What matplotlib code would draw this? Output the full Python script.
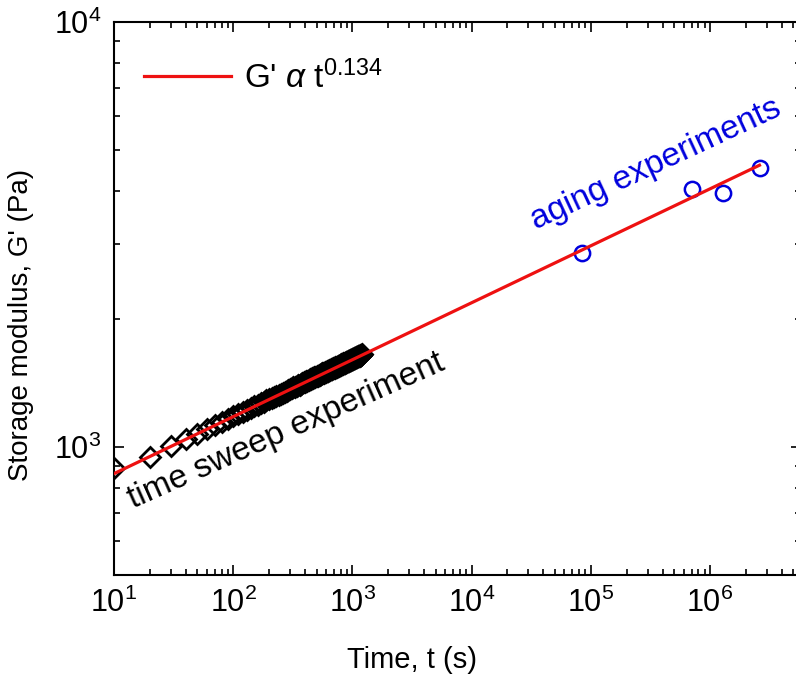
import numpy as np
import matplotlib
matplotlib.use("Agg")
from matplotlib import pyplot as plt

plt.rcParams['font.family'] = ['Liberation Sans', 'DejaVu Sans']
plt.rcParams['mathtext.fontset'] = 'custom'
plt.rcParams['mathtext.rm'] = 'Liberation Sans'
plt.rcParams['mathtext.it'] = 'Liberation Sans:italic'

# time sweep experiment (s, Pa)
sweep_t = list(range(10, 1210, 10))
sweep_G = [895, 950, 1003, 1043, 1075, 1102, 1125, 1146, 1164, 1181,
           1196, 1210, 1223, 1235, 1247, 1258, 1268, 1278, 1287, 1296,
           1305, 1313, 1321, 1329, 1336, 1343, 1350, 1357, 1363, 1369,
           1375, 1381, 1387, 1392, 1398, 1403, 1408, 1414, 1419, 1424,
           1428, 1433, 1437, 1442, 1446, 1451, 1455, 1459, 1463, 1467,
           1471, 1475, 1479, 1482, 1486, 1490, 1493, 1497, 1500, 1504,
           1507, 1510, 1513, 1517, 1520, 1523, 1526, 1529, 1532, 1535,
           1538, 1541, 1544, 1546, 1549, 1552, 1555, 1557, 1560, 1563,
           1565, 1568, 1570, 1573, 1575, 1578, 1580, 1583, 1585, 1588,
           1590, 1592, 1595, 1597, 1599, 1602, 1604, 1606, 1608, 1611,
           1613, 1615, 1617, 1619, 1621, 1623, 1626, 1628, 1630, 1632,
           1634, 1636, 1638, 1640, 1642, 1643, 1645, 1647, 1649, 1651]

# aging experiments
aging_t = [8.4e4, 7.0e5, 1.29e6, 2.63e6]
aging_G = [2860, 4050, 3960, 4540]

# power law fit G' = A t^b
fit_A = 636
fit_b = 0.134
fit_t = np.array([10, 2.6e6])
fit_G = fit_A * fit_t ** fit_b

fig = plt.figure(figsize=(7.96, 6.82), dpi=100)
ax = fig.add_axes([114/796, 1 - 575/682, 687/796, 553/682])

ax.plot(sweep_t, sweep_G, linestyle='none', marker='D', markersize=10,
        markerfacecolor='none', markeredgecolor='black', markeredgewidth=2.0, zorder=2)
ax.plot(aging_t, aging_G, linestyle='none', marker='o', markersize=11,
        markerfacecolor='none', markeredgecolor='#0000dd', markeredgewidth=1.8, zorder=3)
ax.plot(fit_t, fit_G, color='#ee1111', linewidth=2.3, zorder=4,
        label="G' $\\alpha$ t$^{0.134}$")

ax.set_xscale('log')
ax.set_yscale('log')
ax.set_xlim(10, 5.8e6)
ax.set_ylim(500, 1e4)

ax.tick_params(which='both', direction='in', top=True, right=True, labelsize=22, width=1.2)
ax.tick_params(which='major', length=7, pad=9)
ax.tick_params(which='minor', length=4)
for s in ax.spines.values():
    s.set_linewidth(1.5)

ax.set_xlabel('Time, t (s)', fontsize=21)
ax.xaxis.set_label_coords((412 - 114) / 687, -0.128)
ax.set_ylabel("Storage modulus, G' (Pa)", fontsize=20)
ax.yaxis.set_label_coords(-0.117, 1 - (325 - 22) / 553)

ax.text(14.4, 715, 'time sweep experiment', fontsize=24, rotation=24,
        rotation_mode='anchor', ha='left', va='baseline')
ax.text(3.5e4, 3250, 'aging experiments', fontsize=24, rotation=25, color='#0000dd',
        rotation_mode='anchor', ha='left', va='baseline')

ax.legend(loc='upper left', bbox_to_anchor=(0.0, 0.985), frameon=False,
          prop={'size': 24}, handlelength=2.6, handletextpad=0.4)

fig.savefig('out.png', dpi=100, facecolor='white')
